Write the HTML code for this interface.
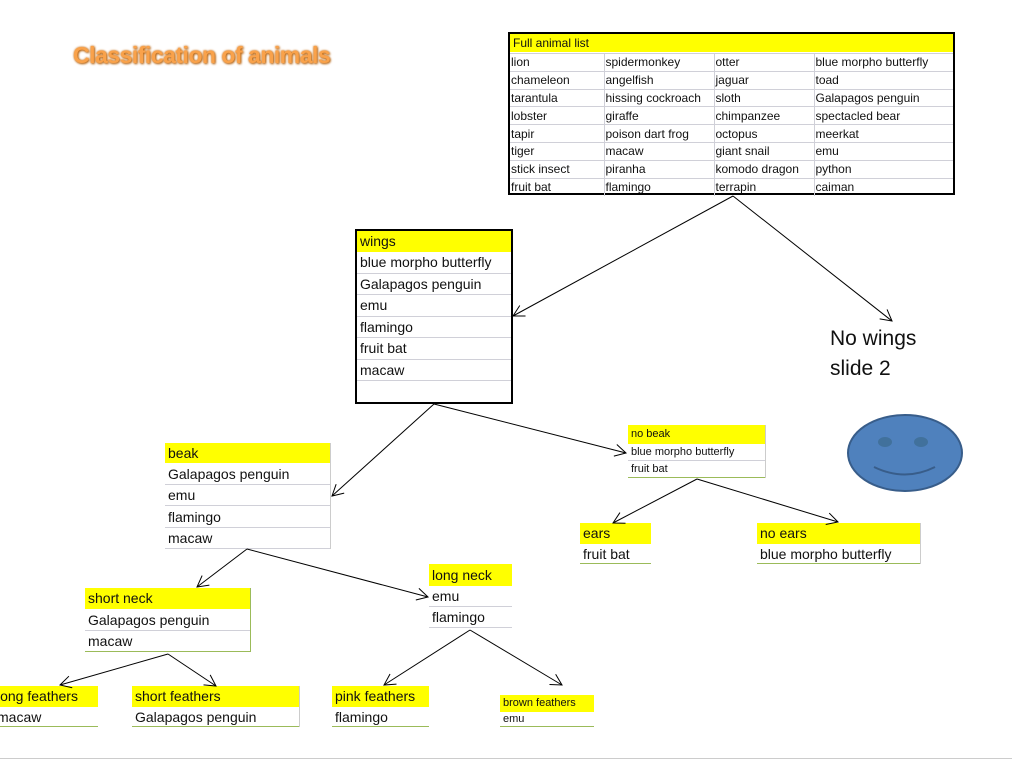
<!DOCTYPE html>
<html><head><style>
body{margin:0;width:1012px;height:760px;background:#fff;position:relative;overflow:hidden;font-family:"Liberation Sans",sans-serif;color:#111}
.b{position:absolute;box-sizing:border-box}
.r{position:absolute;box-sizing:border-box;border-bottom:1px solid #d0d0d8;white-space:nowrap;padding-left:3px;overflow:hidden}
.y{background:#ffff00;border-bottom:none}
table{border-collapse:collapse}
</style></head><body>
<div class="b" style="left:73px;top:42px;font-size:23px;font-weight:bold;color:#f9a24b;text-shadow:0 0 2px #c56b10,1px 1px 2px #b06010;letter-spacing:-0.5px">Classification of animals</div>

<div class="b" style="left:508px;top:32px;width:447px;height:163px;border:2px solid #000;font-size:12px">
<div class="r y" style="left:0;top:0;width:443px;height:18px;line-height:18px">Full animal list</div>
<table style="position:absolute;left:0;top:19px;width:443px">
<colgroup><col style="width:94px"><col style="width:110px"><col style="width:100px"><col></colgroup>
<tr><td>lion</td><td>spidermonkey</td><td>otter</td><td>blue morpho butterfly</td></tr>
<tr><td>chameleon</td><td>angelfish</td><td>jaguar</td><td>toad</td></tr>
<tr><td>tarantula</td><td>hissing cockroach</td><td>sloth</td><td>Galapagos penguin</td></tr>
<tr><td>lobster</td><td>giraffe</td><td>chimpanzee</td><td>spectacled bear</td></tr>
<tr><td>tapir</td><td>poison dart frog</td><td>octopus</td><td>meerkat</td></tr>
<tr><td>tiger</td><td>macaw</td><td>giant snail</td><td>emu</td></tr>
<tr><td>stick insect</td><td>piranha</td><td>komodo dragon</td><td>python</td></tr>
<tr><td>fruit bat</td><td>flamingo</td><td>terrapin</td><td>caiman</td></tr>
</table>
<style>td{height:17.8px;padding:0 0 0 1px;border-left:1px solid #d0d0d8;border-top:1px solid #d0d0d8;white-space:nowrap;box-sizing:border-box;font-size:12px;line-height:16px}tr td:first-child{border-left:none}</style>
</div>

<div class="b" style="left:355px;top:229px;width:158px;height:175px;border:2px solid #000;font-size:14px">
<div class="r y" style="left:0;top:0;width:154px;height:21px;line-height:21px">wings</div>
<div class="r" style="left:0;top:21px;width:154px;height:22px;line-height:21px">blue morpho butterfly</div>
<div class="r" style="left:0;top:43px;width:154px;height:21px;line-height:21px">Galapagos penguin</div>
<div class="r" style="left:0;top:64px;width:154px;height:22px;line-height:21px">emu</div>
<div class="r" style="left:0;top:86px;width:154px;height:21px;line-height:21px">flamingo</div>
<div class="r" style="left:0;top:107px;width:154px;height:22px;line-height:21px">fruit bat</div>
<div class="r" style="left:0;top:129px;width:154px;height:21px;line-height:21px">macaw</div>
</div>

<div class="b" style="left:165px;top:443px;width:166px;font-size:14px;border-right:1px solid #ccc">
<div class="r y" style="position:relative;height:20px;line-height:20px">beak</div>
<div class="r" style="position:relative;height:22px;line-height:22px">Galapagos penguin</div>
<div class="r" style="position:relative;height:21px;line-height:21px">emu</div>
<div class="r" style="position:relative;height:22px;line-height:22px">flamingo</div>
<div class="r" style="position:relative;height:21px;line-height:21px">macaw</div>
</div>

<div class="b" style="left:85px;top:588px;width:166px;font-size:14px;border-right:1px solid #9bbb59">
<div class="r y" style="position:relative;height:21px;line-height:21px">short neck</div>
<div class="r" style="position:relative;height:22px;line-height:22px">Galapagos penguin</div>
<div class="r" style="position:relative;height:21px;line-height:21px;border-bottom-color:#9bbb59">macaw</div>
</div>

<div class="b" style="left:429px;top:564px;width:83px;font-size:14px">
<div class="r y" style="position:relative;height:22px;line-height:22px">long neck</div>
<div class="r" style="position:relative;height:21px;line-height:21px">emu</div>
<div class="r" style="position:relative;height:21px;line-height:21px">flamingo</div>
</div>

<div class="b" style="left:628px;top:425px;width:138px;font-size:11px;border-right:1px solid #ccc">
<div class="r y" style="position:relative;height:19px;line-height:19px">no beak</div>
<div class="r" style="position:relative;height:17px;line-height:17px">blue morpho butterfly</div>
<div class="r" style="position:relative;height:17px;line-height:17px;border-bottom-color:#9bbb59">fruit bat</div>
</div>

<div class="b" style="left:580px;top:523px;width:71px;font-size:14px">
<div class="r y" style="position:relative;height:21px;line-height:21px">ears</div>
<div class="r" style="position:relative;height:20px;line-height:20px;border-bottom-color:#9bbb59">fruit bat</div>
</div>
<div class="b" style="left:757px;top:523px;width:164px;font-size:14px;border-right:1px solid #ccc">
<div class="r y" style="position:relative;height:21px;line-height:21px">no ears</div>
<div class="r" style="position:relative;height:20px;line-height:20px;border-bottom-color:#9bbb59">blue morpho butterfly</div>
</div>

<div class="b" style="left:-6px;top:686px;width:104px;font-size:14px">
<div class="r y" style="position:relative;height:21px;line-height:21px">long feathers</div>
<div class="r" style="position:relative;height:20px;line-height:20px;border-bottom-color:#9bbb59">macaw</div>
</div>
<div class="b" style="left:132px;top:686px;width:168px;font-size:14px;border-right:1px solid #ccc">
<div class="r y" style="position:relative;height:21px;line-height:21px">short feathers</div>
<div class="r" style="position:relative;height:20px;line-height:20px;border-bottom-color:#9bbb59">Galapagos penguin</div>
</div>
<div class="b" style="left:332px;top:686px;width:97px;font-size:14px">
<div class="r y" style="position:relative;height:21px;line-height:21px">pink feathers</div>
<div class="r" style="position:relative;height:20px;line-height:20px;border-bottom-color:#9bbb59">flamingo</div>
</div>
<div class="b" style="left:500px;top:695px;width:94px;font-size:11px">
<div class="r y" style="position:relative;height:17px;line-height:17px">brown feathers</div>
<div class="r" style="position:relative;height:15px;line-height:15px;border-bottom-color:#9bbb59">emu</div>
</div>

<div class="b" style="left:830px;top:324px;font-size:21px;line-height:30px;color:#111">No wings<br>slide 2</div>

<svg class="b" style="left:0;top:0" width="1012" height="760">
<defs><marker id="a" markerWidth="14" markerHeight="14" refX="12" refY="7" orient="auto" markerUnits="userSpaceOnUse"><path d="M1,1 L12,7 L1,13" fill="none" stroke="#000" stroke-width="1"/></marker></defs>
<g stroke="#000" stroke-width="1" fill="none" marker-end="url(#a)">
<line x1="733" y1="196" x2="513" y2="316"/>
<line x1="733" y1="196" x2="892" y2="321"/>
<line x1="434" y1="404" x2="332" y2="496"/>
<line x1="434" y1="404" x2="626" y2="453"/>
<line x1="247" y1="549" x2="197" y2="587"/>
<line x1="247" y1="549" x2="428" y2="597"/>
<line x1="168" y1="654" x2="60" y2="685"/>
<line x1="168" y1="654" x2="216" y2="686"/>
<line x1="470" y1="630" x2="384" y2="685"/>
<line x1="470" y1="630" x2="562" y2="685"/>
<line x1="697" y1="479" x2="613" y2="523"/>
<line x1="697" y1="479" x2="838" y2="522"/>
</g>
<ellipse cx="905" cy="453" rx="57" ry="38" fill="#4f81bd" stroke="#385d8a" stroke-width="2"/>
<ellipse cx="885" cy="442" rx="7" ry="5" fill="#41719c"/>
<ellipse cx="921" cy="442" rx="7" ry="5" fill="#41719c"/>
<path d="M874,467 Q905,482 935,467" fill="none" stroke="#385d8a" stroke-width="2"/>
<line x1="0" y1="758.5" x2="1012" y2="758.5" stroke="#ccc"/>
</svg>
</body></html>
